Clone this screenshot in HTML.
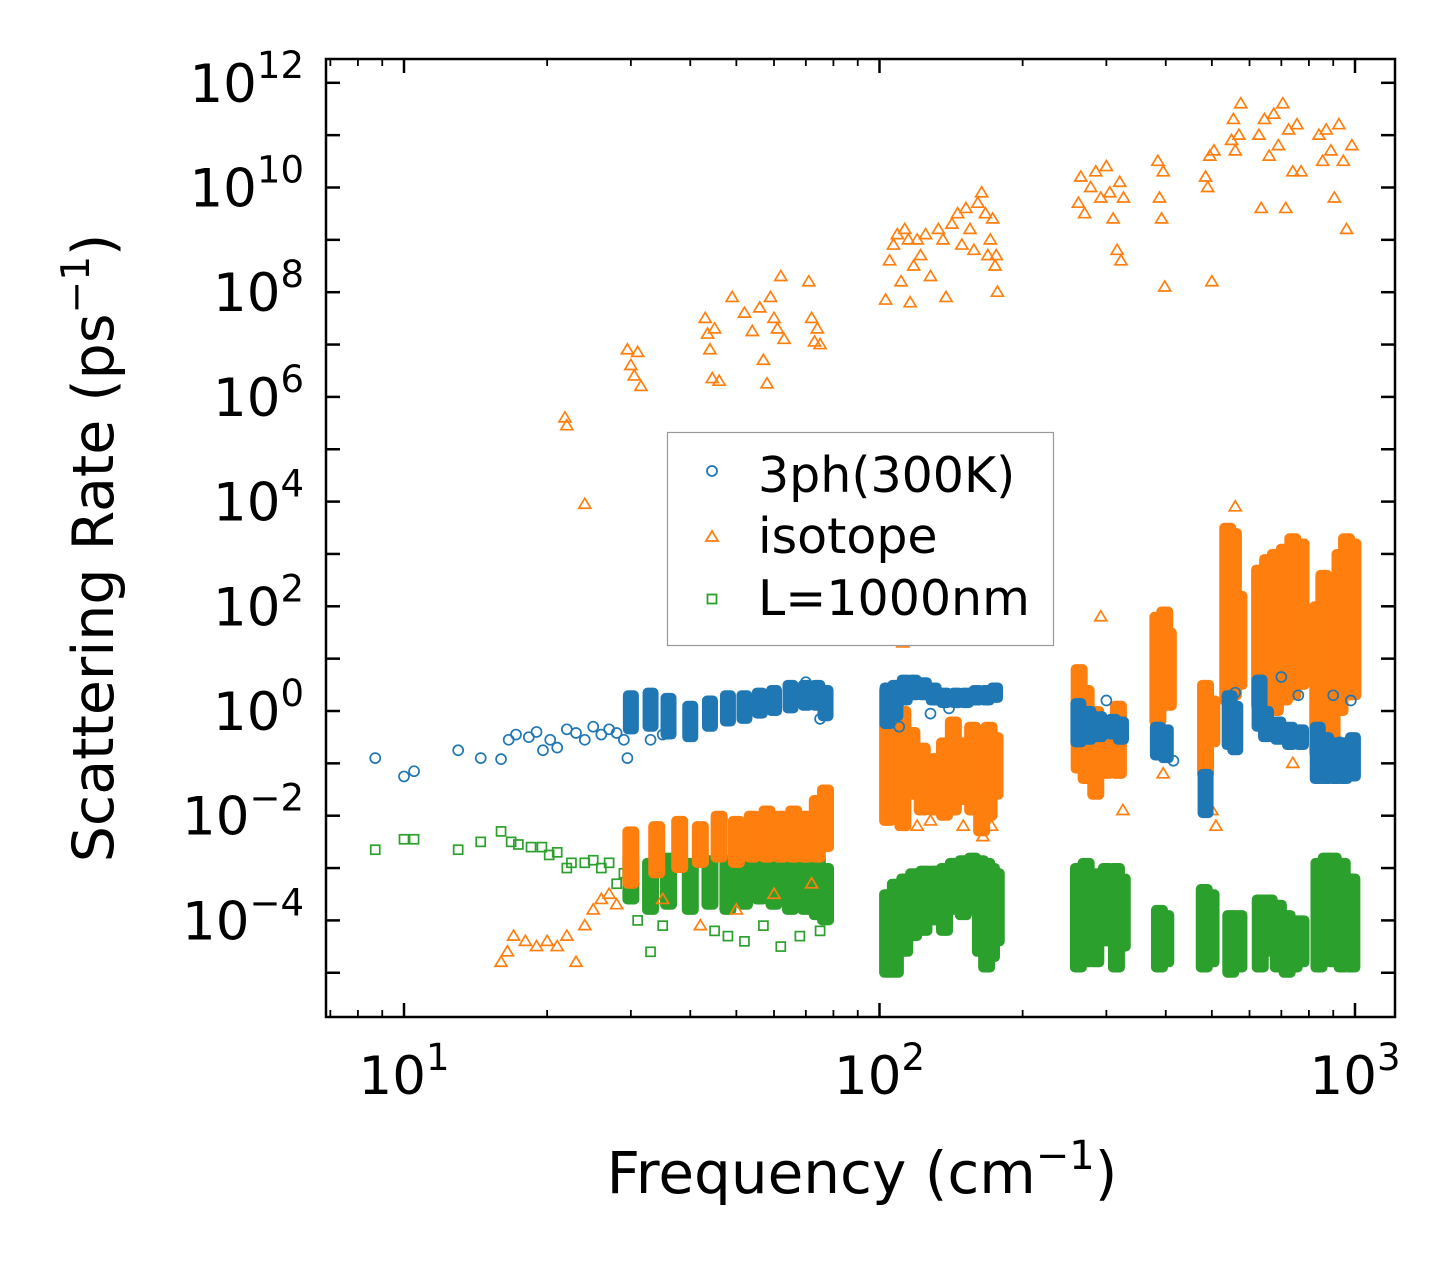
<!DOCTYPE html>
<html><head><meta charset="utf-8"><style>
body{margin:0;background:#fff;}
svg{display:block;font-family:"DejaVu Sans","Liberation Sans",sans-serif;}
</style></head><body>
<svg id="chart" width="1455" height="1266" viewBox="0 0 1455 1266" xmlns="http://www.w3.org/2000/svg">
<rect width="1455" height="1266" fill="#fff"/>
<g id="marks"></g>
<g id="axes"></g>
<text x="862" y="1193" font-size="58" text-anchor="middle">Frequency (cm<tspan dy="-24" font-size="40">−1</tspan><tspan dy="24">)</tspan></text>
<text transform="translate(113,548) rotate(-90)" font-size="57" text-anchor="middle">Scattering Rate (ps<tspan dy="-24" font-size="39">−1</tspan><tspan dy="24">)</tspan></text>
<g>
<rect x="667.5" y="432.5" width="386" height="213" fill="#fff" stroke="#999" stroke-width="1.2"/>
<circle cx="712" cy="471" r="5" fill="none" stroke="#1f77b4" stroke-width="1.8"/>
<text x="758" y="492" font-size="49">3ph(300K)</text>
<polygon points="712,531 718,541 706,541" fill="none" stroke="#ff7f0e" stroke-width="1.8"/>
<text x="758" y="553" font-size="49">isotope</text>
<rect x="707.5" y="594.5" width="9" height="9" fill="none" stroke="#2ca02c" stroke-width="1.8"/>
<text x="758" y="615" font-size="49">L=1000nm</text>
</g>
</svg>
<script>
// ---- data ----
const xTickExps=[1,2,3];
const yTickExps=[-4,-2,0,2,4,6,8,10,12];
const threePhPts=[[8.7,-0.9],[10,-1.25],[10.5,-1.15],[13,-0.75],[14.5,-0.9],[16,-0.92],[16.6,-0.55],[17.2,-0.45],[18.3,-0.5],[19,-0.4],[19.6,-0.75],[20.3,-0.55],[21,-0.7],[22,-0.35],[23,-0.42],[24,-0.55],[25,-0.3],[26,-0.45],[27,-0.35],[28,-0.42],[29.5,-0.9],[29,-0.55],[33,-0.55],[35,-0.45],[55,0.2],[70,0.55],[75,-0.15],[110,-0.3],[128,-0.05],[140,0.05],[300,0.2],[415,-0.95],[560,0.35],[700,0.65],[760,0.3],[900,0.3],[930,-0.6],[980,0.2]];
const threePhRanges=[[30,0.3,-0.35],[33,0.35,-0.3],[36,0.25,-0.45],[40,0.1,-0.5],[44,0.2,-0.3],[48,0.3,-0.2],[52,0.3,-0.15],[56,0.35,-0.05],[60,0.4,0.0],[65,0.5,0.05],[70,0.5,0.1],[74,0.5,0.1],[77,0.4,-0.1],
[104,0.45,-0.25],[108,0.5,-0.1],[113,0.6,0.2],[118,0.6,0.3],[124,0.55,0.3],[130,0.45,0.2],[137,0.35,0.15],[145,0.35,0.15],[152,0.35,0.15],[160,0.4,0.2],[168,0.4,0.2],[175,0.45,0.25],
[262,0.15,-0.6],[275,0.0,-0.55],[290,-0.1,-0.5],[310,-0.15,-0.45],[322,-0.2,-0.55],
[385,-0.3,-0.85],[400,-0.35,-0.9],[485,-1.2,-1.95],[545,0.3,-0.65],[560,0.1,-0.75],
[630,0.6,-0.3],[650,0.0,-0.5],[690,-0.2,-0.55],[730,-0.3,-0.65],[770,-0.35,-0.65],
[835,-0.3,-1.3],[870,-0.5,-1.3],[910,-0.6,-1.3],[950,-0.6,-1.3],[990,-0.5,-1.25]];
const isotopePts=[[21.8,5.6],[22,5.45],[24,3.95],[29.5,6.9],[30,6.6],[30.5,6.4],[31,6.85],[31.5,6.2],[43,7.5],[43.5,7.2],[44,6.9],[44.5,6.35],[45,7.3],[46,6.3],[49,7.9],[52,7.6],[54,7.25],[56,7.7],[57,6.7],[58,6.25],[59,7.9],[60,7.5],[61,7.3],[62,8.3],[63,7.1],[71,8.2],[72,7.5],[73,7.05],[74,7.3],[75,7.0],
[103,7.85],[105,8.6],[107,8.9],[109,9.1],[111,8.2],[113,9.2],[115,9.0],[116,7.8],[118,8.5],[120,9.0],[122,8.7],[125,9.1],[128,8.3],[133,9.2],[136,9.0],[138,7.9],[142,9.3],[146,9.5],[149,8.9],[152,9.6],[155,9.2],[158,8.8],[161,9.7],[164,9.9],[167,9.5],[169,8.7],[171,9.0],[173,9.4],[175,8.5],[177,8.0],[176,8.7],
[262,9.7],[265,10.2],[270,9.5],[278,10.0],[285,10.3],[292,9.8],[300,10.4],[305,9.9],[310,9.4],[316,8.8],[320,10.1],[322,8.6],[326,9.8],
[385,10.5],[388,9.8],[392,9.4],[395,10.3],[398,8.1],[485,10.2],[490,10.0],[500,8.2],[495,10.6],[505,10.7],[550,10.9],[555,11.3],[560,10.7],[570,11.0],[575,11.6],
[628,11.0],[635,9.6],[645,11.3],[660,10.6],[675,11.4],[690,10.8],[705,11.6],[715,9.6],[725,11.1],[740,10.3],[755,11.2],[770,10.3],
[840,11.0],[855,10.5],[870,11.1],[890,10.7],[905,9.8],[925,11.2],[945,10.5],[960,9.2],[985,10.8],
[16,-4.8],[16.5,-4.6],[17,-4.3],[18,-4.4],[19,-4.5],[20,-4.4],[21,-4.5],[22,-4.3],[23,-4.8],[24,-4.1],[25,-3.8],[26,-3.6],[27,-3.5],[28,-3.7],[30,-3.2],[35,-3.6],[42,-4.1],[50,-3.8],[60,-3.5],[72,-3.3],
[112,1.3],[120,-2.2],[128,-2.1],[150,-2.2],[165,-2.4],[172,-2.2],[292,1.8],[325,-1.9],[395,-1.2],[500,-1.9],[510,-2.2],[740,-1.0],[850,-1.3],[910,-1.3],[560,3.9]];
const isotopeRanges=[[30,-2.3,-3.3],[34,-2.2,-3.1],[38,-2.1,-3.0],[42,-2.2,-2.9],[46,-2.0,-2.8],[50,-2.1,-2.9],[54,-2.0,-2.8],[58,-1.9,-2.8],[62,-2.0,-2.8],[66,-1.9,-2.8],[70,-2.0,-2.8],[74,-1.7,-2.8],[77,-1.5,-2.6],
[104,0.4,-2.1],[108,0.3,-1.8],[112,0.0,-2.2],[117,-0.4,-1.6],[123,-0.7,-1.9],[130,-0.9,-1.9],[137,-0.6,-2.0],[143,-0.2,-1.9],[150,-0.6,-1.7],[157,-0.3,-1.9],[164,-0.6,-2.3],[170,-0.3,-2.0],[175,-0.5,-1.6],
[263,0.8,-1.1],[272,0.4,-1.3],[285,0.0,-1.6],[300,-0.3,-1.2],[318,0.1,-1.2],
[385,1.8,-0.2],[398,1.9,0.2],[405,1.5,0.1],[485,0.5,-1.2],[500,0.2,-0.6],
[540,3.5,0.2],[555,3.4,0.3],[570,2.2,0.5],[630,2.7,0.1],[655,2.9,0.2],[680,3.0,0.0],[710,3.1,0.2],[740,3.3,0.3],[770,3.2,0.5],
[835,2.0,-0.8],[860,2.6,-0.3],[895,2.2,-0.5],[930,3.0,0.0],[960,3.3,0.3],[990,3.2,0.3]];
const boundaryPts=[[8.7,-2.65],[10,-2.45],[10.5,-2.45],[13,-2.65],[14.5,-2.5],[16,-2.3],[16.8,-2.5],[17.4,-2.55],[18.5,-2.6],[19.5,-2.6],[20.2,-2.75],[21,-2.7],[22,-3.0],[22.5,-2.9],[24,-2.9],[25,-2.85],[26,-3.0],[27,-2.9],[28,-3.3],[29,-3.1],[31,-4.0],[33,-4.6],[35,-4.1],[40,-3.7],[45,-4.2],[48,-4.3],[52,-4.4],[57,-4.1],[62,-4.5],[68,-4.3],[75,-4.2]];
const boundaryRanges=[[30,-2.8,-3.6],[33,-2.9,-3.8],[36,-2.8,-3.7],[40,-2.9,-3.8],[44,-2.85,-3.7],[48,-2.85,-3.8],[52,-2.9,-3.7],[56,-2.85,-3.6],[60,-2.85,-3.7],[65,-2.8,-3.8],[70,-2.8,-3.8],[74,-2.8,-3.9],[77,-3.0,-4.0],
[104,-3.5,-5.0],[108,-3.3,-5.0],[113,-3.2,-4.6],[118,-3.1,-4.3],[124,-3.05,-4.2],[130,-3.05,-4.0],[137,-3.0,-4.2],[143,-2.9,-3.8],[150,-2.85,-3.9],[157,-2.8,-3.8],[163,-2.85,-4.6],[168,-2.9,-4.9],[172,-3.0,-4.7],[176,-3.1,-4.4],
[262,-3.0,-4.9],[272,-2.9,-4.8],[285,-3.1,-4.8],[300,-3.0,-4.4],[315,-3.0,-4.9],[324,-3.2,-4.5],
[388,-3.8,-4.9],[400,-3.9,-4.8],[482,-3.4,-4.9],[498,-3.5,-4.8],[548,-3.9,-5.0],[570,-3.9,-4.9],
[632,-3.6,-4.9],[660,-3.6,-4.6],[690,-3.7,-4.9],[720,-3.9,-5.0],[745,-4.0,-4.9],[770,-4.0,-4.8],
[840,-2.9,-4.9],[870,-2.8,-4.7],[900,-2.8,-4.8],[940,-2.9,-4.9],[985,-3.2,-4.9]];
// ---- axes ----
const L=326,R=1395,T=59,B=1017;
const xScale=f=>404+(Math.log10(f)-1)*475.5;
const yScale=v=>711-v*52.35;
const NS='http://www.w3.org/2000/svg';
const marks=document.getElementById('marks'), axes=document.getElementById('axes');
function mk(tag,attrs,parent){const e=document.createElementNS(NS,tag);for(const k in attrs)e.setAttribute(k,attrs[k]);parent.appendChild(e);return e;}
const cols={b:'#1f77b4',o:'#ff7f0e',g:'#2ca02c'};
function drawRanges(arr,c,w,name){arr.forEach(d=>{const x=xScale(d[0]),y1=yScale(d[1]),y2=yScale(d[2]);
 const e=mk('rect',{x:x-w/2,y:Math.min(y1,y2)-5,width:w,height:Math.abs(y2-y1)+10,rx:5,fill:c},marks);
 
 });}
function drawPt(kind,x,y,c){let e;
 if(kind==='c')e=mk('circle',{cx:x,cy:y,r:5,fill:'none',stroke:c,'stroke-width':1.7},marks);
 else if(kind==='t')e=mk('polygon',{points:`${x},${y-6} ${x+6},${y+4} ${x-6},${y+4}`,fill:'none',stroke:c,'stroke-width':1.7},marks);
 else e=mk('rect',{x:x-4.5,y:y-4.5,width:9,height:9,fill:'none',stroke:c,'stroke-width':1.7},marks);
 return e;}
function drawPts(arr,kind,c,name){arr.forEach(d=>{const e=drawPt(kind,xScale(d[0]),yScale(d[1]),c);
 
 });}
drawRanges(boundaryRanges,cols.g,17,'boundary-band');drawPts(boundaryPts,'s',cols.g,'boundary-point');
drawRanges(isotopeRanges,cols.o,17,'isotope-band');drawPts(isotopePts,'t',cols.o,'isotope-point');
drawRanges(threePhRanges,cols.b,16,'threeph-band');drawPts(threePhPts,'c',cols.b,'threeph-point');
// frame
const fr=mk('rect',{x:L,y:T,width:R-L,height:B-T,fill:'none',stroke:'#000','stroke-width':2.5},axes);


for(let e=0;e<=3;e++)for(let m=1;m<10;m++){const f=m*Math.pow(10,e);const x=xScale(f);if(x<L||x>R)continue;const len=m===1?14:7,w=m===1?2.5:1.8;
 const t1=mk('line',{x1:x,x2:x,y1:B,y2:B-len,stroke:'#000','stroke-width':w},axes);
 
 
 const t2=mk('line',{x1:x,x2:x,y1:T,y2:T+len,stroke:'#000','stroke-width':w},axes);
 
 }
xTickExps.forEach(e=>{const x=xScale(Math.pow(10,e));const t=mk('text',{x:x,y:1094,'font-size':53,'text-anchor':'middle'},axes);
 
 
 t.innerHTML=`10<tspan dy="-24" font-size="37">${e}</tspan>`;});
for(let e=-5;e<=12;e++){const y=yScale(e);if(y<T||y>B)continue;
 const t1=mk('line',{x1:L,x2:L+14,y1:y,y2:y,stroke:'#000','stroke-width':2.5},axes);
 
 
 const t2=mk('line',{x1:R,x2:R-14,y1:y,y2:y,stroke:'#000','stroke-width':2.5},axes);
 
 }
yTickExps.forEach(e=>{const y=yScale(e);const t=mk('text',{x:304,y:y+19,'font-size':53,'text-anchor':'end'},axes);
 
 
 t.innerHTML=`10<tspan dy="-24" font-size="37">${e<0?'−'+(-e):e}</tspan>`;});
</script>
</body></html>
